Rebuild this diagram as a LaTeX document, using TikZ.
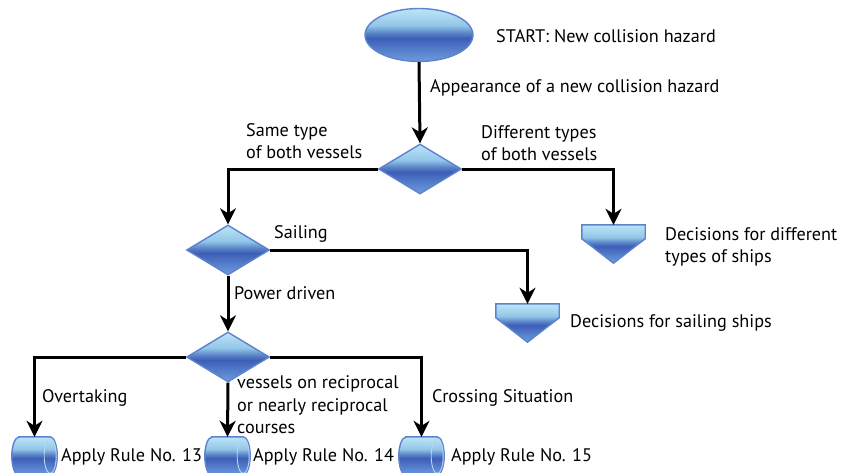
\documentclass[tikz,border=0pt]{standalone}
\usepackage{fontspec}
\setmainfont{PT Sans}
\usetikzlibrary{shapes.geometric,arrows.meta,calc}
\definecolor{rim}{HTML}{5F82CE}
\definecolor{rimlight}{HTML}{B9D3F0}
\definecolor{gbase}{HTML}{6E9CDC}
\definecolor{glow}{HTML}{5079C8}
\definecolor{gdark}{HTML}{3D5EB6}
\definecolor{gband}{HTML}{5A84C8}
\definecolor{gupper}{HTML}{92C6E8}
\definecolor{gtop}{HTML}{BCE6F7}
% glossy blue fill: light cyan top, dark band just below the middle, lighter base
\pgfdeclareverticalshading{glossyblue}{100bp}{%
  color(0bp)=(gbase); color(25bp)=(gbase);
  color(38bp)=(glow); color(47bp)=(gdark);
  color(52bp)=(gband); color(59bp)=(gupper);
  color(75bp)=(gtop); color(100bp)=(gtop)}
\tikzset{
  blueshade/.style={draw=rim, line width=1.4pt, shading=glossyblue},
  startbox/.style={ellipse, blueshade, minimum width=108pt, minimum height=53pt, inner sep=0pt},
  decide/.style={diamond, blueshade, minimum width=83pt, minimum height=50pt, inner sep=0pt},
  slot/.style={minimum width=45pt, minimum height=38pt, inner sep=0pt},
  tslot/.style={minimum width=63pt, minimum height=38pt, inner sep=0pt},
  flow/.style={line width=3pt, -{Stealth[length=16pt,width=16pt,inset=5pt]}},
  lbl/.style={font=\fontsize{18.2}{22.5}\selectfont, anchor=west, inner sep=0pt, align=left},
}
\begin{document}
\begin{tikzpicture}[x=1pt, y=-1pt]
\useasboundingbox (0,0) rectangle (842,472);

% start / decision shapes
\node[startbox] (start) at (419,35) {};
\node[decide] (d1) at (420,169) {};
\node[decide] (d2) at (228,250) {};
\node[decide] (d3) at (228,357) {};

% extract-style terminals (pentagon pointing down)
\node[tslot] (t1) at (613.5,244) {};
\node[tslot] (t2) at (527.5,323) {};
\foreach \t in {t1,t2}{
  \path[blueshade] (\t.north west) -- (\t.north east) -- ($(\t.north east)+(0,14)$)
     -- (\t.south) -- ($(\t.north west)+(0,14)$) -- cycle;
}

% horizontal storage cylinders
\node[slot] (c1) at (34.5,456) {};
\node[slot] (c2) at (227.5,456) {};
\node[slot] (c3) at (421.5,456) {};
\foreach \c in {c1,c2,c3}{
  \path[blueshade] ($(\c.north west)+(7,0)$) -- ($(\c.north east)+(-7,0)$)
     arc[start angle=90, end angle=-90, x radius=7pt, y radius=19pt]
     -- ($(\c.south west)+(7,0)$)
     arc[start angle=270, end angle=90, x radius=7pt, y radius=19pt] -- cycle;
  \draw[rimlight, line width=0.9pt] ($(\c.east)+(-7,0)$) ellipse (6pt and 17.5pt);
}

% connectors
\draw[flow] (start.south) -- (d1.north);
\draw[flow] (d1.west) -| (d2.north);
\draw[flow] (d1.east) -| (t1.north);
\draw[flow] (d2.east) -| (t2.north);
\draw[flow] (d2.south) -- (d3.north);
\draw[flow] (d3.west) -| (c1.north);
\draw[flow] (d3.south) -- (c2.north);
\draw[flow] (d3.east) -| (c3.north);

% labels
\node[lbl] (l1) at (496,36) {START: New collision hazard};
\node[lbl] (l2) at (430,88) {Appearance of a new collision hazard};
\node[lbl] (l3) at (246,141) {Same type\\of both vessels};
\node[lbl] (l4) at (481,143) {Different types\\of both vessels};
\node[lbl] (l5) at (665,247) {Decisions for different\\types of ships};
\node[lbl] (l6) at (274,234) {Sailing};
\node[lbl] (l7) at (234,293) {Power driven};
\node[lbl] (l8) at (570,323) {Decisions for sailing ships};
\node[lbl] (l9) at (42,398) {Overtaking};
\node[lbl] (l10) at (237,405) {vessels on reciprocal\\or nearly reciprocal\\courses};
\node[lbl] (l11) at (432,398) {Crossing Situation};
\node[lbl] (l12) at (61,457) {Apply Rule No. 13};
\node[lbl] (l13) at (253,457) {Apply Rule No. 14};
\node[lbl] (l14) at (451,457) {Apply Rule No. 15};
\end{tikzpicture}
\end{document}
